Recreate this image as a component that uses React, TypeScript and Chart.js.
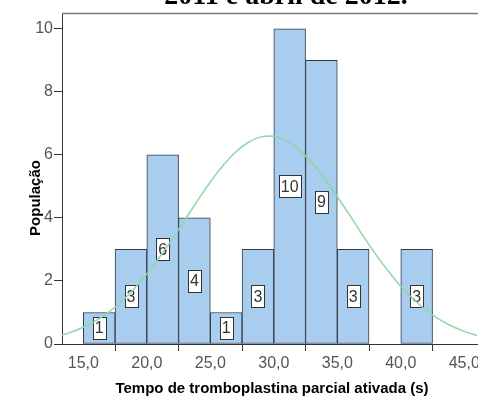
import React, { useEffect, useRef } from "react";
import { Chart, registerables } from "chart.js";

Chart.register(...registerables);

const titleText = "2011 e abril de 2012.";
const xAxisTitle = "Tempo de tromboplastina parcial ativada (s)";
const yAxisTitle = "População";

const binCenters = [16.25, 18.75, 21.25, 23.75, 26.25, 28.75, 31.25, 33.75, 36.25, 41.25];
const counts = [1, 3, 6, 4, 1, 3, 10, 9, 3, 3];

const curveX = [13, 14, 15, 16, 17, 18, 19, 20, 21, 22, 23, 24, 25, 26, 27, 28, 29, 30, 31, 32, 33, 34, 35, 36, 37, 38, 39, 40, 41, 42, 43, 44, 45, 46];
const curveY = [0.25, 0.37, 0.53, 0.74, 1.01, 1.34, 1.75, 2.22, 2.75, 3.33, 3.94, 4.55, 5.14, 5.66, 6.09, 6.4, 6.57, 6.59, 6.45, 6.16, 5.76, 5.25, 4.67, 4.07, 3.45, 2.86, 2.32, 1.83, 1.42, 1.07, 0.79, 0.57, 0.4, 0.27];

const xTickValues = [15, 20, 25, 30, 35, 40, 45];
const yTickValues = [0, 2, 4, 6, 8, 10];

const SANS = "'Liberation Sans', Arial, sans-serif";

export default function App() {
  const ref = useRef<HTMLCanvasElement | null>(null);

  useEffect(() => {
    document.body.style.margin = "0";
    const canvas = ref.current;
    if (!canvas) return;

    const labelPlugin = {
      id: "barLabels",
      afterDatasetDraw(chart: any, args: any) {
        if (args.index !== 0) return;
        const ctx = chart.ctx;
        const meta = chart.getDatasetMeta(0);
        ctx.save();
        ctx.font = `16px ${SANS}`;
        ctx.textAlign = "center";
        ctx.textBaseline = "middle";
        meta.data.forEach((el: any, i: number) => {
          const v = counts[i];
          if (!v) return;
          const cx = el.x;
          const cy = (el.y + el.base) / 2;
          const txt = String(v);
          const w = ctx.measureText(txt).width + 4;
          const h = 22;
          const x0 = Math.round(cx - w / 2) + 0.5;
          const y0 = Math.round(cy - h / 2) + 0.5;
          ctx.fillStyle = "#ffffff";
          ctx.fillRect(x0, y0, Math.round(w), h);
          ctx.strokeStyle = "#333333";
          ctx.lineWidth = 1;
          ctx.strokeRect(x0, y0, Math.round(w), h);
          ctx.fillStyle = "#333333";
          ctx.fillText(txt, cx, cy + 1);
        });
        ctx.restore();
      },
    };

    const textPlugin = {
      id: "texts",
      afterDraw(chart: any) {
        const ctx = chart.ctx;
        const area = chart.chartArea;
        ctx.save();
        // top frame line
        ctx.strokeStyle = "#7a7a7a";
        ctx.lineWidth = 1.5;
        ctx.beginPath();
        ctx.moveTo(area.left, area.top + 0.5);
        ctx.lineTo(area.right, area.top + 0.5);
        ctx.stroke();
        // title (cut off at top)
        ctx.fillStyle = "#000000";
        ctx.font = "bold 28px 'Liberation Serif', 'Times New Roman', serif";
        ctx.textAlign = "center";
        ctx.textBaseline = "alphabetic";
        ctx.fillText(titleText, 286, 4);
        // x axis title
        ctx.font = `bold 15px ${SANS}`;
        ctx.textBaseline = "middle";
        ctx.fillText(xAxisTitle, 272, 389);
        // y axis title
        ctx.translate(36, 198);
        ctx.rotate(-Math.PI / 2);
        ctx.fillText(yAxisTitle, 0, 0);
        ctx.restore();
      },
    };

    const chart = new Chart(canvas, {
      type: "bar",
      data: {
        datasets: [
          {
            type: "bar",
            data: binCenters.map((x, i) => ({ x, y: counts[i] })),
            backgroundColor: "#a9cdee",
            borderColor: "#2f3b48",
            borderWidth: 1,
            borderSkipped: false,
            barPercentage: 1,
            categoryPercentage: 1,
            order: 2,
          } as any,
          {
            type: "line",
            data: curveX.map((x, i) => ({ x, y: curveY[i] })),
            borderColor: "#8fd6a6",
            borderWidth: 1.5,
            pointRadius: 0,
            tension: 0.4,
            fill: false,
            order: 1,
          } as any,
        ],
      },
      options: {
        responsive: false,
        animation: false,
        devicePixelRatio: 1,
        layout: { padding: { top: 13, right: 0, left: 0, bottom: 0 } },
        plugins: {
          legend: { display: false },
          tooltip: { enabled: false },
          title: { display: false },
        },
        scales: {
          x: {
            type: "linear",
            min: 13.32,
            max: 46.08,
            offset: false,
            grid: { drawOnChartArea: false, drawTicks: true, tickLength: 7, color: "#333333" },
            border: { display: true, color: "#333333", width: 1 },
            ticks: {
              font: { family: SANS, size: 16 },
              color: "#555555",
              padding: 3,
              maxRotation: 0,
              autoSkip: false,
              callback: (v: any) => Number(v).toFixed(1).replace(".", ","),
            },
            afterBuildTicks: (axis: any) => {
              axis.ticks = xTickValues.map((v) => ({ value: v }));
            },
            afterFit: (scale: any) => {
              scale.height = 52;
              scale.paddingLeft = 0;
              scale.paddingRight = 0;
            },
          },
          y: {
            type: "linear",
            min: 0,
            max: 10.5,
            grid: { drawOnChartArea: false, drawTicks: true, tickLength: 8, color: "#333333" },
            border: { display: true, color: "#333333", width: 1 },
            ticks: {
              font: { family: SANS, size: 16 },
              color: "#555555",
              padding: 1,
              autoSkip: false,
            },
            afterBuildTicks: (axis: any) => {
              axis.ticks = yTickValues.map((v) => ({ value: v }));
            },
            afterFit: (scale: any) => {
              scale.width = 62;
              scale.paddingTop = 0;
              scale.paddingBottom = 0;
            },
          },
        },
      },
      plugins: [labelPlugin, textPlugin],
    });

    return () => chart.destroy();
  }, []);

  return (
    <div style={{ position: "fixed", left: 0, top: 0, width: 478, height: 396, background: "#fff" }}>
      <canvas ref={ref} width={478} height={396} style={{ display: "block", width: 478, height: 396 }} />
    </div>
  );
}
